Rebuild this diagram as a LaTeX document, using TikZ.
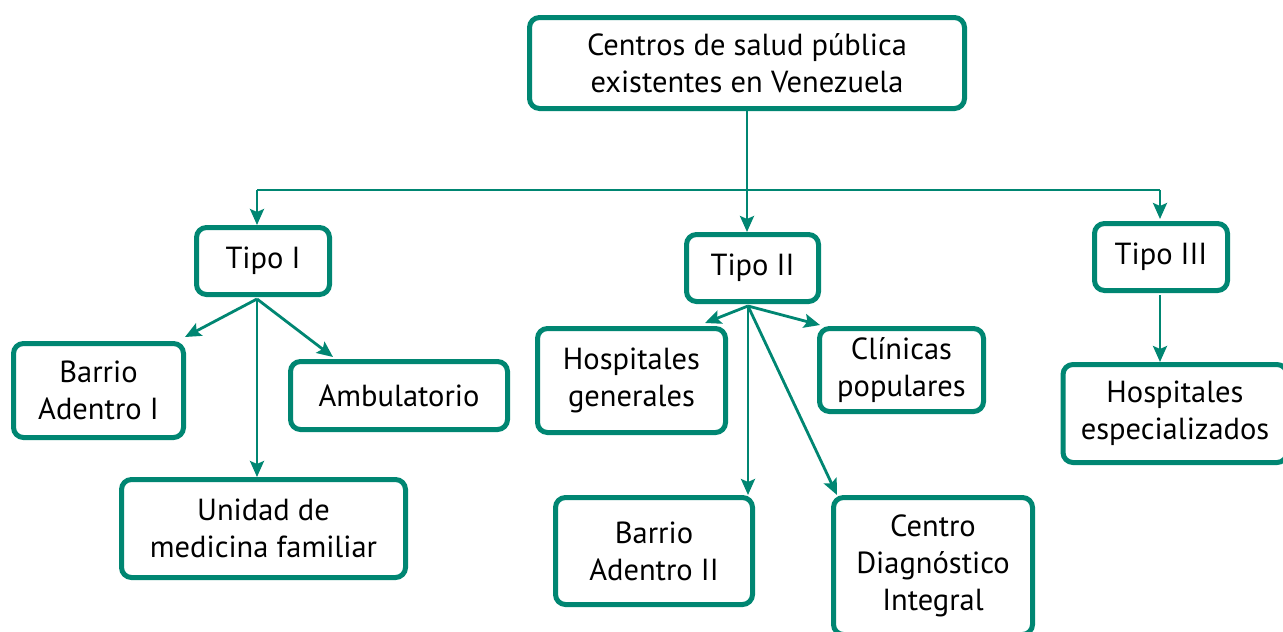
\documentclass[tikz,border=0pt]{standalone}
\usepackage{fontspec}
\setmainfont{PT Sans}
\usetikzlibrary{arrows.meta}
\definecolor{tealc}{RGB}{0,134,114}
\begin{document}
\begin{tikzpicture}[x=1pt,y=-1pt,
  box/.style={draw=tealc, line width=5pt, rounded corners=10pt, fill=white, align=center,
    font=\fontsize{30.5}{37}\selectfont, inner sep=0pt},
  link/.style={draw=tealc, line width=2.8pt},
  conn/.style={link, -{Stealth[length=16pt,width=14pt,inset=3pt]}}]
\useasboundingbox (0,0) rectangle (1283,632);

\node[box, minimum width=435pt, minimum height=91pt] (root) at (747,63) {Centros de salud pública\\existentes en Venezuela};
\node[box, minimum width=133pt, minimum height=67pt] (t1) at (263,261) {Tipo I};
\node[box, minimum width=132pt, minimum height=67pt] (t2) at (752.5,268) {Tipo II};
\node[box, minimum width=133pt, minimum height=67pt] (t3) at (1161,257) {Tipo III};
\node[box, minimum width=170pt, minimum height=94pt] (ba1) at (98.5,390.5) {Barrio\\Adentro I};
\node[box, minimum width=217pt, minimum height=68pt] (amb) at (399,395.5) {Ambulatorio};
\node[box, minimum width=284pt, minimum height=98pt] (umf) at (263.5,528.5) {Unidad de\\medicina familiar};
\node[box, minimum width=188pt, minimum height=104pt] (hg) at (631.5,380.5) {Hospitales\\generales};
\node[box, minimum width=164pt, minimum height=83pt] (cp) at (901.5,370) {Clínicas\\populares};
\node[box, minimum width=197pt, minimum height=107pt] (ba2) at (654,551) {Barrio\\Adentro II};
\node[box, minimum width=199pt, minimum height=137pt] (cdi) at (933,566) {Centro\\Diagnóstico\\Integral};
\node[box, minimum width=224pt, minimum height=98pt] (he) at (1175,413.5) {Hospitales\\especializados};

% bus
\coordinate (bl) at (257,190);
\coordinate (bm) at (747,190);
\coordinate (br) at (1160,190);
\draw[link] (root.south -| bm) -- (bm);
\draw[link] (bl) -- (br);
\draw[conn] (bl) -- (bl |- t1.north);
\draw[conn] (bm) -- (bm |- t2.north);
\draw[conn] (br) -- ([yshift=2pt]br |- t3.north);

% Tipo I
\coordinate (o1) at (257,299);
\coordinate (e1a) at (185,337);
\coordinate (e1b) at (333,357);
\draw[conn] (o1) -- (e1a);
\draw[conn] (o1) -- (e1b);
\draw[conn] (o1) -- (o1 |- umf.north);

% Tipo II
\coordinate (o2) at (748,306);
\coordinate (e2a) at (705,323);
\coordinate (e2b) at (820,325);
\coordinate (e2c) at (837,495);
\draw[conn] (o2) -- (e2a);
\draw[conn] (o2) -- (e2b);
\draw[conn] (o2) -- (o2 |- ba2.north);
\draw[conn] (o2) -- (e2c);

% Tipo III
\coordinate (o3) at (1160,295);
\draw[conn] (o3) -- (o3 |- he.north);
\end{tikzpicture}
\end{document}
